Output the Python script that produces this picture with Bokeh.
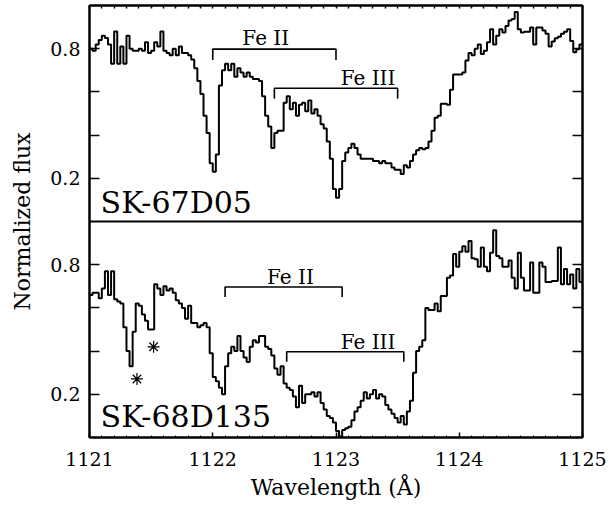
import numpy as np
from bokeh.plotting import figure
from bokeh.models import Range1d, LinearAxis, FixedTicker, Span, Label
from bokeh.core.properties import value
from bokeh.embed import file_html
from bokeh.resources import INLINE

# ---------------- data ----------------
wave_start = 1121.0
bin_width = 0.025

flux_sk67d05 = [
    0.80, 0.79, 0.82, 0.84, 0.86, 0.85, 0.82, 0.73, 0.88, 0.73,
    0.81, 0.73, 0.86, 0.80, 0.79, 0.79, 0.80, 0.79, 0.83, 0.78,
    0.79, 0.83, 0.81, 0.88, 0.79, 0.78, 0.77, 0.80, 0.77, 0.81,
    0.78, 0.78, 0.77, 0.75, 0.71, 0.65, 0.59, 0.49, 0.41, 0.27,
    0.23, 0.31, 0.63, 0.70, 0.73, 0.70, 0.73, 0.67, 0.71, 0.69,
    0.67, 0.69, 0.67, 0.66, 0.66, 0.65, 0.58, 0.49, 0.44, 0.34,
    0.41, 0.42, 0.42, 0.55, 0.58, 0.52, 0.55, 0.49, 0.54, 0.55,
    0.51, 0.56, 0.50, 0.52, 0.49, 0.45, 0.43, 0.37, 0.29, 0.15,
    0.11, 0.15, 0.28, 0.32, 0.34, 0.36, 0.34, 0.31, 0.29, 0.29,
    0.29, 0.29, 0.28, 0.28, 0.27, 0.28, 0.27, 0.27, 0.25, 0.24,
    0.24, 0.22, 0.26, 0.25, 0.28, 0.31, 0.33, 0.34, 0.335, 0.34,
    0.37, 0.42, 0.48, 0.49, 0.545, 0.545, 0.54, 0.61, 0.68, 0.68,
    0.68, 0.69, 0.745, 0.78, 0.77, 0.80, 0.82, 0.775, 0.79, 0.83,
    0.89, 0.82, 0.86, 0.89, 0.875, 0.905, 0.93, 0.937, 0.97, 0.89,
    0.875, 0.878, 0.878, 0.898, 0.82, 0.898, 0.898, 0.884, 0.869, 0.81,
    0.833, 0.848, 0.855, 0.869, 0.878, 0.89, 0.836, 0.783, 0.798, 0.82,
]

flux_sk68d135 = [
    0.66, 0.67, 0.67, 0.645, 0.69, 0.77, 0.66, 0.77, 0.64, 0.63,
    0.62, 0.51, 0.40, 0.33, 0.49, 0.62, 0.61, 0.57, 0.54, 0.50,
    0.50, 0.71, 0.69, 0.66, 0.70, 0.68, 0.69, 0.67, 0.635, 0.62,
    0.60, 0.55, 0.61, 0.53, 0.53, 0.51, 0.52, 0.53, 0.51, 0.39,
    0.28, 0.26, 0.23, 0.20, 0.33, 0.39, 0.42, 0.40, 0.47, 0.40,
    0.37, 0.35, 0.42, 0.45, 0.44, 0.47, 0.47, 0.42, 0.41, 0.38,
    0.32, 0.29, 0.33, 0.25, 0.23, 0.22, 0.19, 0.14, 0.24, 0.16,
    0.20, 0.20, 0.21, 0.19, 0.21, 0.16, 0.13, 0.10, 0.09, 0.07,
    0.03, 0.005, 0.035, 0.043, 0.05, 0.08, 0.12, 0.14, 0.17, 0.21,
    0.18, 0.20, 0.22, 0.18, 0.20, 0.19, 0.15, 0.13, 0.11, 0.09,
    0.07, 0.10, 0.06, 0.12, 0.17, 0.30, 0.40, 0.42, 0.45, 0.60,
    0.59, 0.59, 0.62, 0.585, 0.655, 0.655, 0.74, 0.75, 0.85, 0.79,
    0.86, 0.885, 0.86, 0.91, 0.83, 0.825, 0.79, 0.88, 0.79, 0.77,
    0.855, 0.96, 0.84, 0.83, 0.79, 0.79, 0.82, 0.74, 0.69, 0.855,
    0.74, 0.68, 0.68, 0.81, 0.67, 0.67, 0.81, 0.79, 0.72, 0.72,
    0.725, 0.725, 0.88, 0.71, 0.78, 0.71, 0.755, 0.69, 0.78, 0.72,
]

x_ticks = [1121, 1122, 1123, 1124, 1125]
x_tick_labels = ["1121", "1122", "1123", "1124", "1125"]
y_labeled_ticks = [0.2, 0.8]
y_tick_labels = ["0.2", "0.8"]
y_unlabeled_ticks = [0.4, 0.6]

# ion brackets: start, end, bar level, foot level (panel flux units)
top_bracket_x0 = [1122.0, 1122.5]
top_bracket_x1 = [1123.0, 1123.5]
top_bracket_y = [0.798, 0.617]
top_bracket_foot = [0.748, 0.568]
top_ion_labels = ["Fe II", "Fe III"]
top_ion_x = [1122.43, 1123.26]
top_ion_y = [0.85, 0.663]

bot_bracket_x0 = [1122.1, 1122.6]
bot_bracket_x1 = [1123.05, 1123.55]
bot_bracket_y = [0.697, 0.397]
bot_bracket_foot = [0.651, 0.351]
bot_ion_labels = ["Fe II", "Fe III"]
bot_ion_x = [1122.63, 1123.26]
bot_ion_y = [0.743, 0.443]

star_names = ["SK-67D05", "SK-68D135"]
star_label_x = [1121.09, 1121.09]
star_label_y = [0.09, 0.097]

asterisk_x = [1121.385, 1121.52]
asterisk_y = [0.271, 0.42]

FONT = "DejaVu Serif"

# ---------------- figure ----------------
p = figure(width=610, height=506,
           x_range=Range1d(1121, 1125), y_range=Range1d(0, 2),
           output_backend="svg", toolbar_location=None,
           min_border_left=89, min_border_right=28,
           min_border_top=5, min_border_bottom=69)
p.extra_y_ranges = {"top": Range1d(-1, 1)}
p.background_fill_color = "white"
p.border_fill_color = "white"
p.grid.visible = False
p.outline_line_color = "black"
p.outline_line_width = 2

# spectra as histograms
n = len(flux_sk67d05)
edges = wave_start + bin_width * np.arange(n + 1)
p.step(edges, np.append(flux_sk67d05, flux_sk67d05[-1]), mode="after",
       line_color="black", line_width=2, y_range_name="top")
p.step(edges, np.append(flux_sk68d135, flux_sk68d135[-1]), mode="after",
       line_color="black", line_width=2)

# panel separator
p.add_layout(Span(location=1.0, dimension="width", line_color="black", line_width=2))

# brackets
def brackets(x0, x1, yb, yf, rng):
    xs = [[a, a, b, b] for a, b in zip(x0, x1)]
    ys = [[f, y, y, f] for y, f in zip(yb, yf)]
    kw = {} if rng is None else {"y_range_name": rng}
    p.multi_line(xs, ys, line_color="black", line_width=1.6, **kw)

brackets(top_bracket_x0, top_bracket_x1, top_bracket_y, top_bracket_foot, "top")
brackets(bot_bracket_x0, bot_bracket_x1, bot_bracket_y, bot_bracket_foot, None)

p.text(top_ion_x, top_ion_y, text=top_ion_labels, text_font=value(FONT),
       text_font_size="20px", text_align="center", text_baseline="alphabetic",
       text_color="black", y_range_name="top")
p.text(bot_ion_x, bot_ion_y, text=bot_ion_labels, text_font=value(FONT),
       text_font_size="20px", text_align="center", text_baseline="alphabetic",
       text_color="black")

p.text([star_label_x[0]], [star_label_y[0]], text=[star_names[0]], text_font=value(FONT),
       text_font_size="30px", text_align="left", text_baseline="alphabetic",
       text_color="black", y_range_name="top")
p.text([star_label_x[1]], [star_label_y[1]], text=[star_names[1]], text_font=value(FONT),
       text_font_size="30px", text_align="left", text_baseline="alphabetic",
       text_color="black")

p.scatter(asterisk_x, asterisk_y, marker="asterisk", size=12,
          line_color="black", line_width=1.2)

# ---------------- axes ----------------
y_major = y_labeled_ticks + [1.0 + v for v in y_labeled_ticks]
y_minor = y_unlabeled_ticks + [1.0 + v for v in y_unlabeled_ticks]
y_overrides = {t: l for t, l in zip(y_major, y_tick_labels + y_tick_labels)}

yax = p.yaxis[0]
yax.ticker = FixedTicker(ticks=y_major, minor_ticks=y_minor)
yax.major_label_overrides = y_overrides
yax.major_tick_in = 10
yax.major_tick_out = 0
yax.minor_tick_in = 10
yax.minor_tick_out = 0
yax.major_tick_line_width = 1.5
yax.minor_tick_line_width = 1.5
yax.axis_line_width = 2
yax.major_label_standoff = 9
yax.major_label_text_font = FONT
yax.major_label_text_font_size = "19px"
yax.major_label_text_color = "black"
yax.axis_label = "Normalized flux"
yax.axis_label_text_font = FONT
yax.axis_label_text_font_size = "22px"
yax.axis_label_text_font_style = "normal"
yax.axis_label_text_color = "black"
yax.axis_label_standoff = 12

minor_x = [round(1121 + 0.1 * i, 1) for i in range(41) if i % 10 != 0]

xax = p.xaxis[0]
xax.ticker = FixedTicker(ticks=x_ticks, minor_ticks=minor_x)
xax.major_label_overrides = {t: l for t, l in zip(x_ticks, x_tick_labels)}
xax.major_tick_in = 5
xax.major_tick_out = 0
xax.minor_tick_in = 2
xax.minor_tick_out = 0
xax.major_tick_line_width = 1.5
xax.axis_line_width = 2
xax.major_label_standoff = 14
xax.major_label_text_font = FONT
xax.major_label_text_font_size = "19px"
xax.major_label_text_color = "black"
xax.axis_label = "Wavelength (Å)"
xax.axis_label_text_font = FONT
xax.axis_label_text_font_size = "22px"
xax.axis_label_text_font_style = "normal"
xax.axis_label_text_color = "black"
xax.axis_label_standoff = 6

rax = LinearAxis(ticker=FixedTicker(ticks=[], minor_ticks=y_major + y_minor))
rax.minor_tick_in = 10
rax.minor_tick_out = 0
rax.minor_tick_line_width = 1.5
rax.axis_line_width = 2
p.add_layout(rax, "right")

tax = LinearAxis(ticker=FixedTicker(ticks=[], minor_ticks=x_ticks + minor_x))
tax.minor_tick_in = 3
tax.minor_tick_out = 0
tax.minor_tick_line_width = 1.5
tax.axis_line_width = 2
p.add_layout(tax, "above")

open("out.html", "w").write(file_html(p, INLINE))
